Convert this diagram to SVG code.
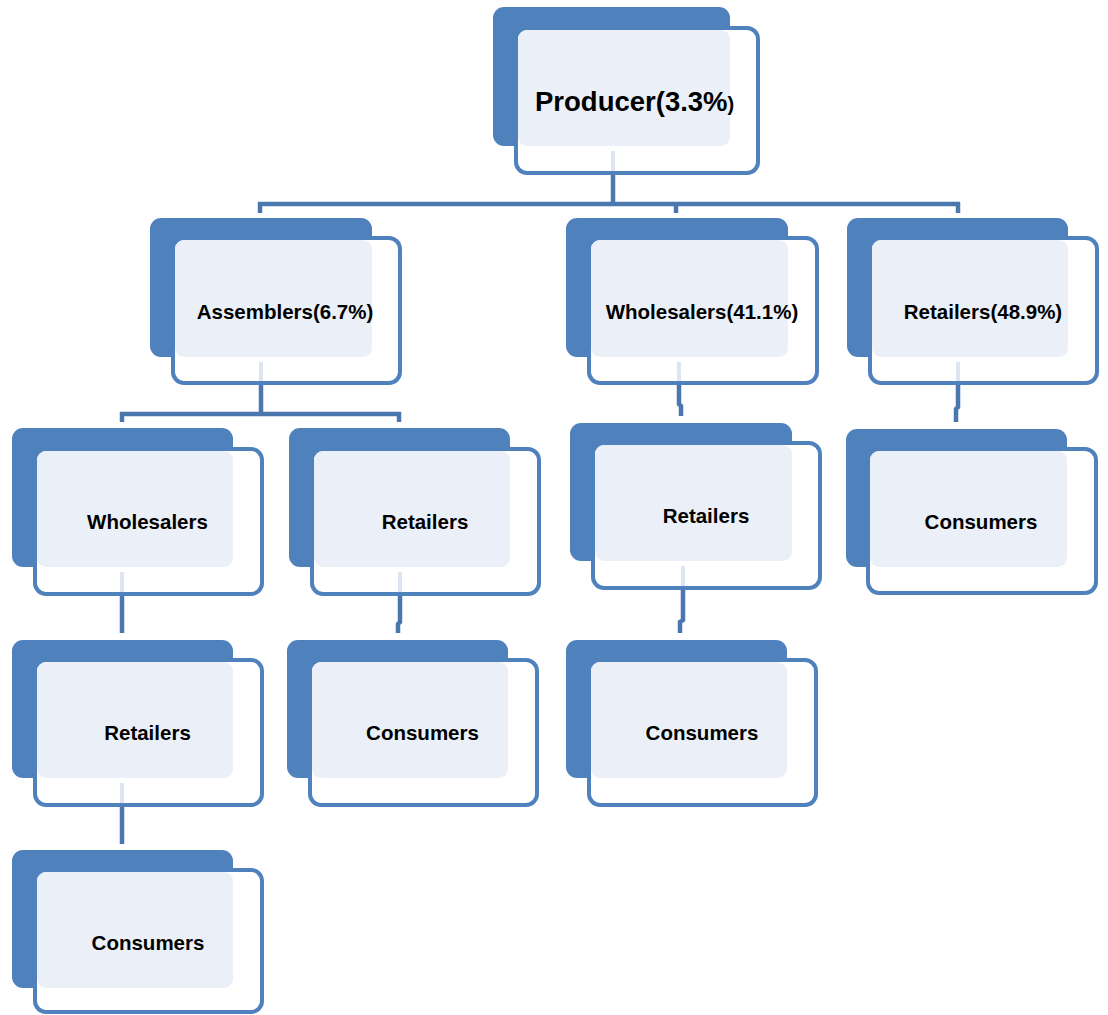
<svg xmlns="http://www.w3.org/2000/svg" width="1108" height="1015" viewBox="0 0 1108 1015">
<style>
.back{fill:#4F81BD}
.front{fill:#FFFFFF;stroke:#4F81BD;stroke-width:4}
.lite{fill:#EBF0F8}
.lbl{font-family:"Liberation Sans",Arial,sans-serif;font-weight:bold;font-size:20.5px;fill:#000;text-anchor:middle}
.con{fill:none;stroke:#4A77AE;stroke-width:4.5}
.ghost{fill:none;stroke:#DCE5F1;stroke-width:4}
</style>
<rect width="1108" height="1015" fill="#FFFFFF"/>
<g id="node-producer">
<rect class="back" x="493" y="7" width="237" height="139" rx="11"/>
<rect class="front" x="516" y="28" width="242" height="145" rx="11"/>
<rect class="lite" x="518" y="30" width="212" height="116" rx="9"/>
<text x="535" y="111" style="font-family:'Liberation Sans',Arial,sans-serif;font-weight:bold;font-size:27.5px">Producer(3.3%<tspan style="font-size:20px">)</tspan></text>
</g>
<g id="node-assemblers">
<rect class="back" x="150" y="218" width="222" height="139" rx="11"/>
<rect class="front" x="173" y="238" width="227" height="145" rx="11"/>
<rect class="lite" x="175" y="240" width="197" height="117" rx="9"/>
<text class="lbl" x="285" y="319">Assemblers(6.7%)</text>
</g>
<g id="node-wholesalers-41">
<rect class="back" x="566" y="218" width="222" height="139" rx="11"/>
<rect class="front" x="589" y="238" width="228" height="145" rx="11"/>
<rect class="lite" x="591" y="240" width="197" height="117" rx="9"/>
<text class="lbl" x="702" y="319">Wholesalers(41.1%)</text>
</g>
<g id="node-retailers-48">
<rect class="back" x="847" y="218" width="221" height="139" rx="11"/>
<rect class="front" x="870" y="238" width="227" height="145" rx="11"/>
<rect class="lite" x="872" y="240" width="196" height="117" rx="9"/>
<text class="lbl" x="983" y="319">Retailers(48.9%)</text>
</g>
<g id="node-wholesalers-a">
<rect class="back" x="12" y="428" width="221" height="139" rx="11"/>
<rect class="front" x="35" y="449" width="227" height="145" rx="11"/>
<rect class="lite" x="37" y="451" width="196" height="116" rx="9"/>
<text class="lbl" x="147.5" y="529">Wholesalers</text>
</g>
<g id="node-retailers-a">
<rect class="back" x="289" y="428" width="221" height="139" rx="11"/>
<rect class="front" x="312" y="449" width="227" height="145" rx="11"/>
<rect class="lite" x="314" y="451" width="196" height="116" rx="9"/>
<text class="lbl" x="425" y="529">Retailers</text>
</g>
<g id="node-retailers-w">
<rect class="back" x="570" y="423" width="222" height="138" rx="11"/>
<rect class="front" x="593" y="443" width="227" height="145" rx="11"/>
<rect class="lite" x="595" y="445" width="197" height="116" rx="9"/>
<text class="lbl" x="706" y="523">Retailers</text>
</g>
<g id="node-consumers-r">
<rect class="back" x="846" y="429" width="221" height="138" rx="11"/>
<rect class="front" x="868" y="449" width="228" height="144" rx="11"/>
<rect class="lite" x="870" y="451" width="197" height="116" rx="9"/>
<text class="lbl" x="981" y="529">Consumers</text>
</g>
<g id="node-retailers-aw">
<rect class="back" x="12" y="640" width="221" height="138" rx="11"/>
<rect class="front" x="35" y="660" width="227" height="145" rx="11"/>
<rect class="lite" x="37" y="662" width="196" height="116" rx="9"/>
<text class="lbl" x="147.5" y="740">Retailers</text>
</g>
<g id="node-consumers-ar">
<rect class="back" x="287" y="640" width="221" height="138" rx="11"/>
<rect class="front" x="310" y="660" width="227" height="145" rx="11"/>
<rect class="lite" x="312" y="662" width="196" height="116" rx="9"/>
<text class="lbl" x="422.5" y="740">Consumers</text>
</g>
<g id="node-consumers-wr">
<rect class="back" x="566" y="640" width="221" height="138" rx="11"/>
<rect class="front" x="589" y="660" width="227" height="145" rx="11"/>
<rect class="lite" x="591" y="662" width="196" height="116" rx="9"/>
<text class="lbl" x="702" y="740">Consumers</text>
</g>
<g id="node-consumers-awr">
<rect class="back" x="12" y="850" width="221" height="138" rx="11"/>
<rect class="front" x="35" y="870" width="227" height="142" rx="11"/>
<rect class="lite" x="37" y="872" width="196" height="116" rx="9"/>
<text class="lbl" x="148" y="950">Consumers</text>
</g>
<g id="connectors">
<path class="ghost" d="M613 151V171"/>
<path class="ghost" d="M261 362V381"/>
<path class="ghost" d="M679 362V381"/>
<path class="ghost" d="M958 362V381"/>
<path class="ghost" d="M122 572V592"/>
<path class="ghost" d="M400 572V592"/>
<path class="ghost" d="M683 566V586"/>
<path class="ghost" d="M122 783V803"/>
<path class="con" d="M613 175V204M258 204H960M260 202V213M676 204V213M958 202V213"/>
<path class="con" d="M261 385V414M120 414H401M122 412V422M399 412V422"/>
<path class="con" d="M679 385V404L681 406V416"/>
<path class="con" d="M958 385V407L956 409V422"/>
<path class="con" d="M122 596V633"/>
<path class="con" d="M400 596V622L398 624V633"/>
<path class="con" d="M683 590V620L680 622V633"/>
<path class="con" d="M122 807V844"/>
</g>
</svg>
